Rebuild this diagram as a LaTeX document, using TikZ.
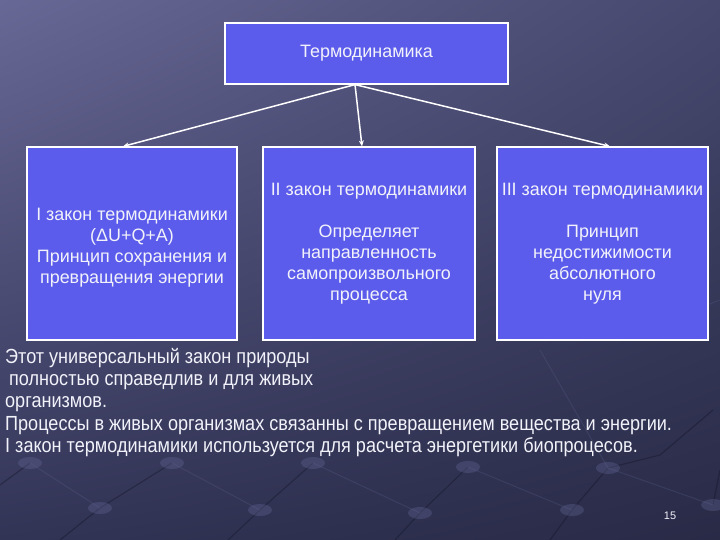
\documentclass[tikz,border=0pt]{standalone}
\usepackage{fontspec}
\setmainfont{Liberation Sans}
\newfontfamily\narrowfont[FakeStretch=0.885]{Liberation Sans}
\usetikzlibrary{arrows.meta,shadings}
\definecolor{boxblue}{RGB}{92,92,236}
\definecolor{txt}{RGB}{242,242,250}
\definecolor{bgUL}{RGB}{104,104,150}
\definecolor{bgUR}{RGB}{70,72,110}
\definecolor{bgLL}{RGB}{50,52,86}
\definecolor{bgLR}{RGB}{40,42,70}
\definecolor{beadc}{RGB}{100,102,150}
\definecolor{darkline}{RGB}{22,24,44}
\definecolor{lightline}{RGB}{85,87,128}
\tikzset{
  lawbox/.style={draw=white, line width=1.2bp, fill=boxblue, text=txt, align=center,
    font=\fontsize{18}{21}\selectfont, inner sep=0pt},
  lawtext/.style={text=txt, align=center, font=\fontsize{18}{21}\selectfont, inner sep=0pt},
  arr/.style={draw=white, line width=1.5bp, -{Stealth[length=6bp,width=5bp]}},
  bead/.style={fill=beadc, opacity=0.35},
  dline/.style={draw=darkline, line width=1.2bp, opacity=0.45},
  lline/.style={draw=lightline, line width=1.0bp, opacity=0.35}
}
\begin{document}
\begin{tikzpicture}[x=1bp,y=-1bp]
\useasboundingbox (0,0) rectangle (720,540);
\shade[upper left=bgUL, upper right=bgUR, lower left=bgLL, lower right=bgLR]
  (0bp,0bp) rectangle (720bp,-540bp);
% background lattice
\draw[dline] (172,463) -- (100,508) -- (60,540);
\draw[dline] (313,463) -- (260,510) -- (228,540);
\draw[dline] (468,467) -- (420,513) -- (395,540);
\draw[dline] (608,468) -- (572,510) -- (550,540);
\draw[dline] (713,410) -- (660,455) -- (608,468);
\draw[dline] (720,470) -- (713,505);
\draw[dline] (30,463) -- (0,485);
\draw[lline] (30,463) -- (100,508);
\draw[lline] (172,463) -- (260,510);
\draw[lline] (313,463) -- (420,513);
\draw[lline] (468,467) -- (572,510);
\draw[lline] (608,468) -- (713,505);
\draw[lline] (540,350) -- (608,468);
\draw[lline] (640,330) -- (720,300);
\foreach \p in {(30,463),(172,463),(313,463),(468,467),(608,468),(100,508),(260,510),(420,513),(572,510),(713,505)}
  \fill[bead] \p ellipse (12bp and 6bp);

% nodes
\node[lawbox, minimum width=283bp, minimum height=61bp] (top) at (366.5,53.5) {Термодинамика};
\node[lawbox, minimum width=210bp, minimum height=193bp] (b1) at (132,243.5) {};
\node[lawtext] (t1) at (132,247.5)
  {I закон термодинамики\\(ΔU+Q+A)\\Принцип сохранения и\\превращения энергии};
\node[lawbox, minimum width=212bp, minimum height=193bp] (b2) at (369,243.5)
  {II закон термодинамики\\[21bp]Определяет\\направленность\\самопроизвольного\\процесса};
\node[lawbox, minimum width=211bp, minimum height=193bp] (b3) at (602.5,243.5)
  {III закон термодинамики\\[21bp]Принцип\\недостижимости\\абсолютного\\нуля};

\coordinate (src) at ([xshift=-11.5bp]top.south);
\coordinate (e1) at ([xshift=-9bp]b1.north);
\coordinate (e2) at ([xshift=-7bp]b2.north);
\coordinate (e3) at ([xshift=7.5bp]b3.north);
\draw[arr] (src) -- (e1);
\draw[arr] (src) -- (e2);
\draw[arr] (src) -- (e3);

\node[anchor=north west, align=left, inner sep=0pt, text=txt,
  font=\narrowfont\fontsize{20.5}{22.3}\selectfont] (note) at (5,348)
  {Этот универсальный закон природы\\
   \hspace{4bp}полностью справедлив и для живых\\
   организмов.\\
   Процессы в живых организмах связанны с превращением вещества и энергии.\\
   I закон термодинамики используется для расчета энергетики биопроцесов.};
\node[text=txt, font=\fontsize{11}{13}\selectfont, inner sep=0pt] (pg) at (670,516) {15};
\end{tikzpicture}
\end{document}
